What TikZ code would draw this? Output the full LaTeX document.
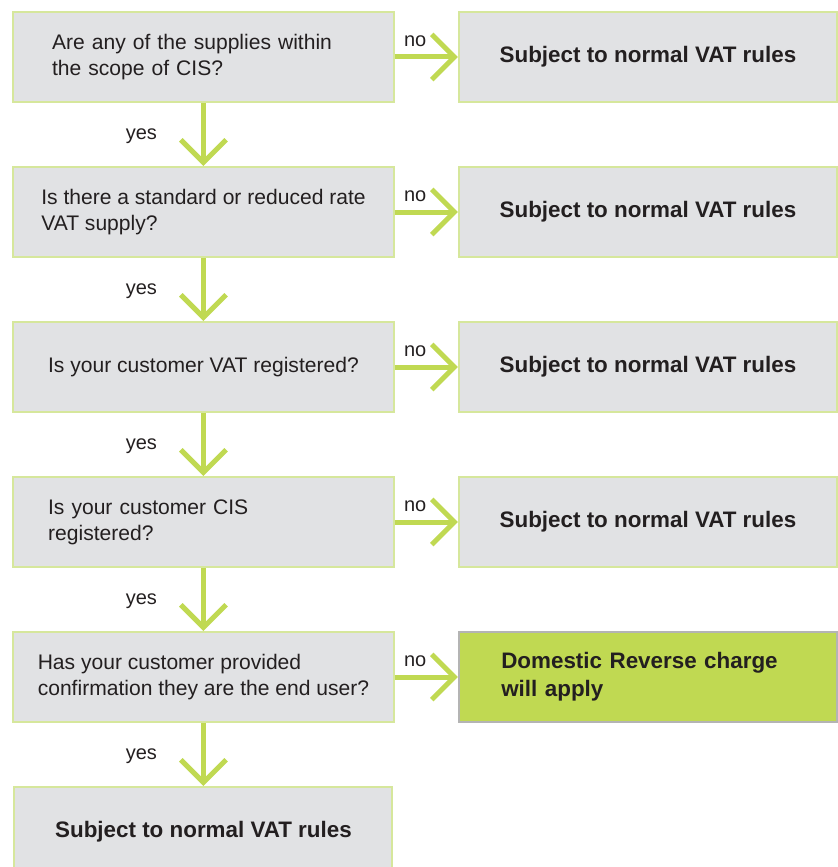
\documentclass[tikz,border=0pt]{standalone}
\usepackage{fontspec}
\setmainfont{Liberation Sans}
\usepackage{xcolor}
\usetikzlibrary{positioning,arrows.meta}

\definecolor{vatgreen}{HTML}{C0D952}
\definecolor{boxline}{HTML}{D6E79C}
\definecolor{boxgray}{HTML}{E1E2E4}
\definecolor{resultline}{HTML}{B4B4B4}
\definecolor{inkdark}{HTML}{231F20}

\begin{document}
\begin{tikzpicture}[node distance=47.25pt,text=inkdark,
                    arrow/.style={draw=vatgreen,line width=3.75pt,
                    -{Straight Barb[length=17pt,width=34pt]}},
                    question/.style={rectangle,draw=boxline,line width=1.5pt,fill=boxgray,
                    minimum width=285.75pt,minimum height=67.5pt,inner sep=0pt,
                    align=left,font=\fontsize{15.8}{19.5}\selectfont},
                    answer/.style={question,minimum width=283.5pt,align=center,
                    font=\fontsize{16.8}{21}\selectfont\bfseries},
                    result/.style={answer,fill=vatgreen,draw=resultline,align=left},
                    choice/.style={font=\fontsize{15}{18}\selectfont,inner sep=0pt}]

\useasboundingbox (0,0) rectangle (628.5pt,-650.25pt);
\clip (0,0) rectangle (628.5pt,-650.25pt);

% questions down the left
\node[question,text width=227pt] (scope) at (152.6pt,-42.75pt)
    {Are any of the supplies within\\the scope of CIS?};
\node[question] (rate) [below=of scope]
    {Is there a standard or reduced rate\\VAT supply?};
\node[question] (vatreg) [below=of rate] {Is your customer VAT registered?};
\node[question,text width=233pt] (cisreg) [below=of vatreg]
    {Is your customer CIS\\registered?};
\node[question] (enduser) [below=of cisreg]
    {Has your customer provided\\confirmation they are the end user?};
\node[answer] (normalF) [below=of enduser] {Subject to normal VAT rules};

% outcomes on the right
\node[answer] (normalA) [right=of scope] {Subject to normal VAT rules};
\node[answer] (normalB) [right=of rate] {Subject to normal VAT rules};
\node[answer] (normalC) [right=of vatreg] {Subject to normal VAT rules};
\node[answer] (normalD) [right=of cisreg] {Subject to normal VAT rules};
\node[result,text width=220pt] (reverse) [right=of enduser]
    {Domestic Reverse charge\\will apply};

\path[every node/.style={choice}]
    (scope)   edge[arrow] node[pos=0.32,above=6pt] {no} (normalA)
              edge[arrow] node[pos=0.52,left=33pt] {yes} (rate)
    (rate)    edge[arrow] node[pos=0.32,above=6pt] {no} (normalB)
              edge[arrow] node[pos=0.52,left=33pt] {yes} (vatreg)
    (vatreg)  edge[arrow] node[pos=0.32,above=6pt] {no} (normalC)
              edge[arrow] node[pos=0.52,left=33pt] {yes} (cisreg)
    (cisreg)  edge[arrow] node[pos=0.32,above=6pt] {no} (normalD)
              edge[arrow] node[pos=0.52,left=33pt] {yes} (enduser)
    (enduser) edge[arrow] node[pos=0.32,above=6pt] {no} (reverse)
              edge[arrow] node[pos=0.52,left=33pt] {yes} (normalF);

\end{tikzpicture}
\end{document}
